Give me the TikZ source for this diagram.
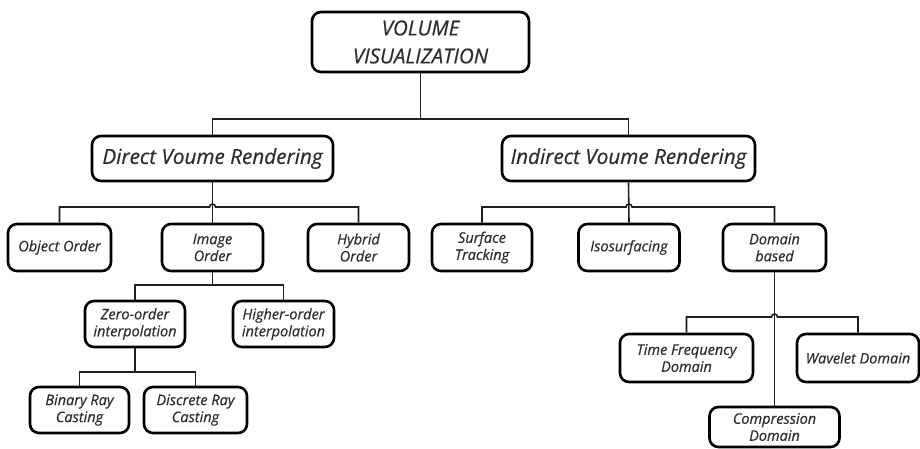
\documentclass[tikz,border=0pt]{standalone}
\usepackage{fontspec}
\setmainfont{Open Sans}
\newfontfamily\boxfont{Open Sans}[FakeBold=0.5]
\usetikzlibrary{positioning,calc}
\definecolor{textgray}{RGB}{45,45,45}
\definecolor{linegray}{RGB}{30,30,30}

\begin{document}
\begin{tikzpicture}[
    x=1pt, y=-1pt,
    box/.style={rectangle, draw=black, line width=2.6pt, rounded corners=9pt, align=center, text=textgray, inner sep=0pt},
    top/.style={box, minimum width=217pt, minimum height=60pt, font=\boxfont\fontsize{20.5}{28}\selectfont\itshape},
    big/.style={box, minimum height=45pt, font=\boxfont\fontsize{20.7}{24}\selectfont\itshape},
    small/.style={box, minimum height=47pt, font=\boxfont\fontsize{14.5}{17}\selectfont\itshape},
    link/.style={line width=1.6pt, draw=linegray}
]
    \useasboundingbox (0,0) rectangle (920,448);

    % Root
    \node[top] (root) at (420.5,42) {VOLUME\\VISUALIZATION};

    % Rendering
    \node[big, minimum width=241pt] (direct) at (212.5,158.5) {Direct Voume Rendering};
    \node[big, minimum width=253pt] (indirect) at (628.5,158.5) {Indirect Voume Rendering};

    % Direct branch
    \node[small, minimum width=103pt] (object) at (59.5,247.5) {Object Order};
    \node[small, minimum width=101pt] (image) at (212.5,247.5) {Image\\Order};
    \node[small, minimum width=101pt] (hybrid) at (358.5,247.5) {Hybrid\\Order};
    \node[small, minimum width=100pt, minimum height=46pt] (zero) at (135,324) {Zero-order\\interpolation};
    \node[small, minimum width=101pt, minimum height=46pt] (higher) at (283.5,324) {Higher-order\\interpolation};
    \node[small, minimum width=99pt, minimum height=46pt] (binary) at (79.5,410) {Binary Ray\\Casting};
    \node[small, minimum width=103pt, minimum height=46pt] (discrete) at (195.5,410) {Discrete Ray\\Casting};

    % Indirect branch
    \node[small, minimum width=100pt] (surface) at (482,247.5) {Surface\\Tracking};
    \node[small, minimum width=101pt] (iso) at (629,247.5) {Isosurfacing};
    \node[small, minimum width=103pt] (domain) at (774.5,247.5) {Domain\\based};
    \node[small, minimum width=133pt, minimum height=48pt] (timefreq) at (686.5,358) {Time Frequency\\Domain};
    \node[small, minimum width=122pt, minimum height=48pt] (wavelet) at (858,358) {Wavelet Domain};
    \node[small, minimum width=130pt, minimum height=40pt] (compress) at (774.5,427) {Compression\\Domain};

    % Bus levels
    \coordinate (bus0) at (420.5,119);
    \coordinate (bus1) at (0,207);
    \coordinate (bus2) at (0,285);
    \coordinate (bus3) at (0,372);
    \coordinate (bus4) at (0,317);
    \coordinate (hopd) at (image.north |- bus1);
    \coordinate (hopi) at (iso.north |- bus1);
    \coordinate (hopc) at (compress.north |- bus4);

    % Edges
    \draw[link] (root.south) -- (root.south |- bus0);
    \draw[link] (direct.north) |- (bus0) -| (indirect.north);

    \draw[link] (direct.south) -- (image.north);
    \draw[link] (object.north) |- ([xshift=-3pt]hopd) arc[start angle=180, end angle=0, radius=3pt] -| (hybrid.north);
    \draw[link] (image.south) -- (image.south |- bus2);
    \draw[link] (zero.north) |- (image.south |- bus2) -| (higher.north);
    \draw[link] (zero.south) -- (zero.south |- bus3);
    \draw[link] (binary.north) |- (zero.south |- bus3) -| (discrete.north);

    \draw[link] (indirect.south) -- (iso.north);
    \draw[link] (surface.north) |- ([xshift=-3pt]hopi) arc[start angle=180, end angle=0, radius=3pt] -| (domain.north);
    \draw[link] (domain.south) -- (compress.north);
    \draw[link] (timefreq.north) |- ([xshift=-3pt]hopc) arc[start angle=180, end angle=0, radius=3pt] -| (wavelet.north);
\end{tikzpicture}
\end{document}
